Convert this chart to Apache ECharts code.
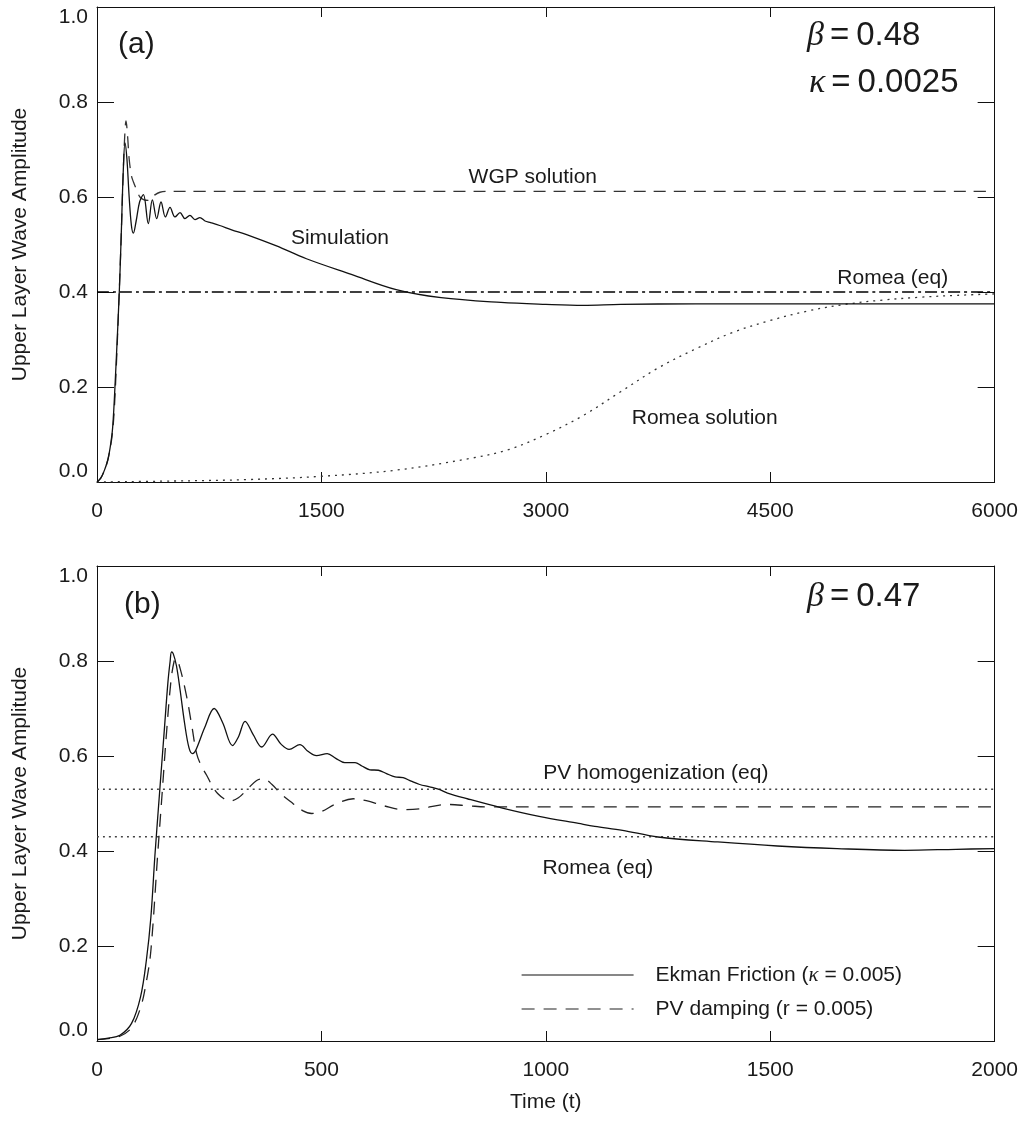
<!DOCTYPE html>
<html>
<head>
<meta charset="utf-8">
<title>Upper layer wave amplitude</title>
<script src="https://cdn.jsdelivr.net/npm/echarts@6/dist/echarts.min.js"></script>
<style>
  html, body { margin: 0; padding: 0; background: #fff; }
  #chart { width: 1021px; height: 1127px; }
</style>
</head>
<body>
<div id="chart"></div>
<script>
// ---------- Panel (a): beta = 0.48, kappa = 0.0025 ----------
const simT = [0, 25, 50, 75, 100, 110, 120, 135, 149, 162, 175, 187, 200, 215, 230, 243, 262, 285, 310, 343, 370, 399, 428, 457, 488, 521, 555, 588, 621, 655, 688, 722, 760, 820, 900, 1000, 1200, 1400, 1700, 2000, 2300, 2700, 3000, 3250, 3500, 4000, 5000, 6000];
const simV = [0.0, 0.008, 0.025, 0.05, 0.1, 0.14, 0.2, 0.3, 0.4, 0.52, 0.65, 0.714, 0.68, 0.6, 0.54, 0.524, 0.55, 0.59, 0.605, 0.544, 0.594, 0.5545, 0.5895, 0.558, 0.578, 0.558, 0.567, 0.5545, 0.5615, 0.5524, 0.5566, 0.5495, 0.546, 0.54, 0.531, 0.521, 0.497, 0.47, 0.437, 0.405, 0.388, 0.378, 0.374, 0.372, 0.374, 0.375, 0.375, 0.375];

const wgpT = [0, 25, 50, 75, 100, 115, 130, 145, 160, 172, 184, 194, 204, 215, 230, 243, 265, 287, 315, 343, 380, 421, 500, 700, 1000, 6000];
const wgpV = [0.0, 0.008, 0.025, 0.05, 0.095, 0.15, 0.25, 0.37, 0.5, 0.62, 0.72, 0.76, 0.73, 0.68, 0.645, 0.632, 0.615, 0.6, 0.594, 0.593, 0.603, 0.61, 0.612, 0.612, 0.612, 0.612];

const romeaSolT = [0, 500, 1000, 1500, 2000, 2500, 2750, 3000, 3250, 3500, 3750, 4000, 4250, 4500, 4750, 5000, 5250, 5500, 5750, 6000];
const romeaSolV = [0.0, 0.002, 0.005, 0.012, 0.025, 0.05, 0.068, 0.1, 0.14, 0.19, 0.24, 0.28, 0.315, 0.34, 0.36, 0.374, 0.383, 0.389, 0.393, 0.396];

const romeaEqA = 0.4;
const timeTicksA = [0, 1500, 3000, 4500, 6000];

// ---------- Panel (b): beta = 0.47 ----------
const ekmanT = [0, 25, 51, 77, 97, 110, 120, 129, 140, 150, 158, 163, 166, 170, 177, 185, 195, 205, 213, 220, 240, 261, 280, 302, 315, 330, 348, 367, 391, 410, 428, 452, 470, 489, 513, 532, 552, 575, 590, 608, 627, 645, 664, 682, 700, 719, 741, 764, 781, 825, 901, 985, 1073, 1109, 1171, 1250, 1383, 1516, 1649, 1799, 1914, 2000];
const ekmanV = [0.003, 0.006, 0.012, 0.037, 0.093, 0.17, 0.26, 0.39, 0.53, 0.655, 0.755, 0.8, 0.819, 0.815, 0.79, 0.74, 0.67, 0.617, 0.605, 0.612, 0.66, 0.70, 0.67, 0.622, 0.64, 0.673, 0.645, 0.619, 0.646, 0.625, 0.614, 0.624, 0.61, 0.601, 0.605, 0.595, 0.586, 0.586, 0.579, 0.571, 0.57, 0.563, 0.556, 0.5545, 0.547, 0.54, 0.535, 0.529, 0.522, 0.51, 0.491, 0.473, 0.458, 0.452, 0.4436, 0.4295, 0.419, 0.4105, 0.405, 0.4015, 0.4036, 0.405];

const pvDampT = [0, 25, 51, 77, 97, 110, 120, 135, 145, 155, 165, 172, 176, 185, 200, 211, 222, 233, 244, 258, 270, 283, 296, 315, 335, 355, 371, 390, 410, 437, 458, 478, 500, 530, 571, 600, 640, 682, 720, 780, 830, 869, 1000, 2000];
const pvDampV = [0.003, 0.005, 0.01, 0.028, 0.07, 0.125, 0.19, 0.39, 0.52, 0.65, 0.76, 0.8, 0.805, 0.785, 0.724, 0.665, 0.605, 0.578, 0.56, 0.535, 0.52, 0.51, 0.505, 0.512, 0.53, 0.548, 0.552, 0.54, 0.52, 0.4997, 0.485, 0.479, 0.483, 0.498, 0.51, 0.506, 0.495, 0.487, 0.489, 0.498, 0.495, 0.493, 0.493, 0.493];

const pvHomEqB = 0.53;
const romeaEqB = 0.43;
const timeTicksB = [0, 500, 1000, 1500, 2000];

const ampTickLabels = ['0.0', '0.2', '0.4', '0.6', '0.8', '1.0'];

// ---------- helpers ----------
const pairs = (ts, vs) => ts.map((t, i) => [t, vs[i]]);
const flat = (v, tMax) => [[0, v], [tMax, v]];

const FONT = 'Liberation Sans';
const INK = '#1a1a1a';

const GRID_LEFT = 97, GRID_W = 898, GRID_H = 475;

function xAxisPair(gridIndex, ticks, withName) {
  const min = ticks[0], max = ticks[ticks.length - 1], interval = ticks[1] - ticks[0];
  const common = {
    type: 'value', gridIndex, min, max, interval,
    splitLine: { show: false },
    axisLine: { show: true, onZero: false, lineStyle: { color: '#111', width: 1 } },
    axisTick: { show: true, inside: true, length: 10, lineStyle: { color: '#111', width: 1 } }
  };
  return [
    Object.assign({}, common, {
      position: 'bottom',
      axisLabel: { show: true, margin: 19, fontFamily: FONT, fontSize: 21, color: INK,
        showMinLabel: true, showMaxLabel: true, formatter: v => String(v) },
      name: withName ? 'Time (t)' : '',
      nameLocation: 'middle', nameGap: 51,
      nameTextStyle: { fontFamily: FONT, fontSize: 21, color: INK }
    }),
    Object.assign({}, common, { position: 'top', axisLabel: { show: false } })
  ];
}

function yAxisPair(gridIndex) {
  const common = {
    type: 'value', gridIndex, min: 0, max: 1, interval: 0.2,
    splitLine: { show: false },
    axisLine: { show: true, onZero: false, lineStyle: { color: '#111', width: 1 } },
    axisTick: { show: true, inside: true, length: 17, lineStyle: { color: '#111', width: 1 } }
  };
  return [
    Object.assign({}, common, {
      position: 'left',
      axisLabel: {
        show: true, margin: 9, fontFamily: FONT, fontSize: 21, color: INK,
        showMinLabel: true, showMaxLabel: true,
        verticalAlignMinLabel: 'bottom', verticalAlignMaxLabel: 'top',
        formatter: v => ampTickLabels[Math.round(v / 0.2)]
      },
      name: 'Upper Layer Wave Amplitude',
      nameLocation: 'middle', nameGap: 66,
      nameTextStyle: { fontFamily: FONT, fontSize: 21, color: INK }
    }),
    Object.assign({}, common, { position: 'right', axisLabel: { show: false } })
  ];
}

function line(name, data, xi, yi, style) {
  return {
    type: 'line', name, data, xAxisIndex: xi, yAxisIndex: yi,
    symbol: 'none', smooth: 0.35, silent: true,
    lineStyle: Object.assign({ color: '#111', width: 1.3, type: 'solid' }, style),
    itemStyle: { color: style.color || '#111' },
    z: 3
  };
}

const EKMAN = 'Ekman Friction (κ = 0.005)';
const PVDAMP = 'PV damping (r = 0.005)';

const chart = echarts.init(document.getElementById('chart'), null, { renderer: 'canvas' });

chart.setOption({
  animation: false,
  backgroundColor: '#fff',
  grid: [
    { left: GRID_LEFT, top: 7, width: GRID_W, height: GRID_H, containLabel: false },
    { left: GRID_LEFT, top: 566, width: GRID_W, height: GRID_H, containLabel: false }
  ],
  xAxis: [...xAxisPair(0, timeTicksA, false), ...xAxisPair(1, timeTicksB, true)],
  yAxis: [...yAxisPair(0), ...yAxisPair(1)],
  legend: {
    data: [EKMAN, PVDAMP],
    orient: 'vertical',
    left: 516, top: 959,
    itemWidth: 112, itemHeight: 14, itemGap: 12,
    selectedMode: false,
    // legend keys show only the line stroke, no marker
    itemStyle: { color: 'rgba(0,0,0,0)', borderWidth: 0, opacity: 0 },
    lineStyle: { width: 1.2 },
    textStyle: {
      fontFamily: FONT, fontSize: 21, color: INK, lineHeight: 22,
      padding: [0, 0, 0, 17],
      rich: { k: { fontFamily: 'Liberation Serif', fontStyle: 'italic', fontSize: 21, color: INK } }
    },
    formatter: name => name.replace('κ', '{k|κ}')
  },
  series: [
    // panel (a)
    line('Romea solution', pairs(romeaSolT, romeaSolV), 0, 0, { color: '#333', type: [2, 5] }),
    line('Romea (eq)', flat(romeaEqA, timeTicksA[4]), 0, 0, { color: '#000', width: 1.3, type: [12, 4, 3, 4] }),
    line('WGP solution', pairs(wgpT, wgpV), 0, 0, { color: '#333', type: [12, 8] }),
    line('Simulation', pairs(simT, simV), 0, 0, { color: '#111' }),
    // panel (b)
    line('PV homogenization (eq)', flat(pvHomEqB, timeTicksB[4]), 2, 2, { color: '#444', type: [2, 4] }),
    line('Romea (eq) b', flat(romeaEqB, timeTicksB[4]), 2, 2, { color: '#444', type: [2, 4] }),
    line(PVDAMP, pairs(pvDampT, pvDampV), 2, 2, { color: '#222', type: [13, 9] }),
    line(EKMAN, pairs(ekmanT, ekmanV), 2, 2, { color: '#111' })
  ]
});

// Curve annotations, placed in data coordinates of each panel
const notes = [
  { text: 'WGP solution', axes: 0, at: [2913, 0.641] },
  { text: 'Simulation', axes: 0, at: [1624, 0.513] },
  { text: 'Romea (eq)', axes: 0, at: [5319, 0.429] },
  { text: 'Romea solution', axes: 0, at: [4062, 0.134] },
  { text: 'PV homogenization (eq)', axes: 2, at: [1245, 0.5636] },
  { text: 'Romea (eq)', axes: 2, at: [1116, 0.3636] }
];

const graphics = notes.map(n => {
  const p = chart.convertToPixel({ xAxisIndex: n.axes, yAxisIndex: n.axes }, n.at);
  return {
    type: 'text', x: p[0], y: p[1], z: 10,
    style: { text: n.text, fill: INK, font: '21px "' + FONT + '"', textAlign: 'center', textVerticalAlign: 'middle' }
  };
});

// Panel tags and parameter values
const paramRich = {
  g: { fontFamily: 'Liberation Serif', fontStyle: 'italic', fontSize: 34, fill: INK },
  e: { fontFamily: FONT, fontSize: 33, fill: INK, padding: [0, 7, 0, 6] },
  n: { fontFamily: FONT, fontSize: 33, fill: INK }
};
function tag(text, x, y, size) {
  return { type: 'text', x, y, z: 10,
    style: { text, fill: INK, font: size + 'px "' + FONT + '"', textAlign: 'left', textVerticalAlign: 'middle' } };
}
function param(text, x, y) {
  return { type: 'text', x, y, z: 10,
    style: { text, rich: paramRich, textAlign: 'left', textVerticalAlign: 'middle' } };
}
graphics.push(
  tag('(a)', 118, 45, 30),
  tag('(b)', 124, 605, 30),
  param('{g|β}{e|=}{n|0.48}', 807, 36),
  param('{g|κ}{e|=}{n|0.0025}', 809, 83),
  param('{g|β}{e|=}{n|0.47}', 807, 597)
);

chart.setOption({ graphic: graphics });
</script>
</body>
</html>
